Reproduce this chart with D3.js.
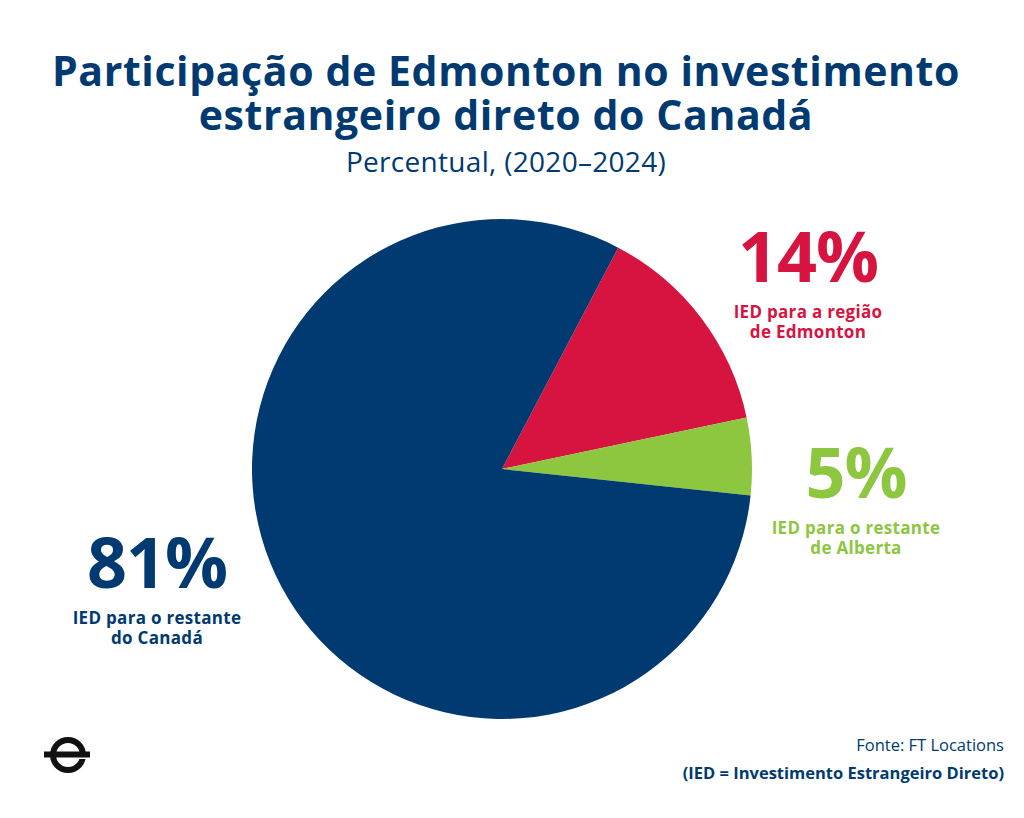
<!DOCTYPE html>
<html><head><meta charset="utf-8">
<script src="https://cdn.jsdelivr.net/npm/d3@7"></script>
<style>body{margin:0;background:#fff}text{font-family:"Open Sans",Lato,sans-serif}</style>
</head><body>
<svg id="c" width="1024" height="818"></svg>
<script>
var labels = ["IED para a região|de Edmonton", "IED para o restante|de Alberta", "IED para o restante|do Canadá"];
var values = [14, 5, 81];
var colors = ["#d7133f", "#8dc63f", "#003a70"];
var navy = "#003a70";

var svg = d3.select("#c");
var cx = 502, cy = 469, r = 250;

svg.append("text").attr("x", 506).attr("y", 86).attr("text-anchor", "middle")
  .attr("font-size", 41).attr("font-weight", 700).attr("fill", navy).attr("letter-spacing", 0.6)
  .text("Participação de Edmonton no investimento");
svg.append("text").attr("x", 506).attr("y", 130).attr("text-anchor", "middle")
  .attr("font-size", 41).attr("font-weight", 700).attr("fill", navy).attr("letter-spacing", 0.6)
  .text("estrangeiro direto do Canadá");
svg.append("text").attr("x", 506).attr("y", 172).attr("text-anchor", "middle")
  .attr("font-size", 28).attr("fill", navy).attr("letter-spacing", 0.3).text("Percentual, (2020–2024)");

var start = 27.7 * Math.PI / 180;
var pie = d3.pie().sort(null).startAngle(start).endAngle(start + 2 * Math.PI)(values);
var arc = d3.arc().innerRadius(0).outerRadius(r);
svg.append("g").attr("transform", "translate(" + cx + "," + cy + ")")
  .selectAll("path").data(pie).enter().append("path")
  .attr("d", arc).attr("fill", function(d, i) { return colors[i]; });

var lab = [[808, 282], [856, 498], [157, 588]];
values.forEach(function(v, i) {
  var g = svg.append("g").attr("fill", colors[i]).attr("text-anchor", "middle");
  g.append("text").attr("x", lab[i][0]).attr("y", lab[i][1]).attr("font-size", 70)
    .attr("font-weight", 700).attr("letter-spacing", -1).text(v + "%");
  labels[i].split("|").forEach(function(s, j) {
    g.append("text").attr("x", lab[i][0]).attr("y", lab[i][1] + 36 + j * 20)
      .attr("font-size", 17).attr("font-weight", 700).attr("letter-spacing", 0.3).text(s);
  });
});

svg.append("text").attr("x", 1004).attr("y", 751).attr("text-anchor", "end")
  .attr("font-size", 16.5).attr("fill", navy).text("Fonte: FT Locations");
svg.append("text").attr("x", 1004).attr("y", 779).attr("text-anchor", "end")
  .attr("font-size", 16.5).attr("font-weight", 700).attr("fill", navy)
  .text("(IED = Investimento Estrangeiro Direto)");

// logo
var lg = svg.append("g").attr("transform", "translate(68,755)");
lg.append("circle").attr("r", 15).attr("fill", "none").attr("stroke", "#111").attr("stroke-width", 6);
lg.append("rect").attr("x", 3).attr("y", -3).attr("width", 20).attr("height", 7).attr("fill", "#fff");
lg.append("rect").attr("x", -24).attr("y", -3.5).attr("width", 46).attr("height", 6).attr("fill", "#111");
</script>
</body></html>
